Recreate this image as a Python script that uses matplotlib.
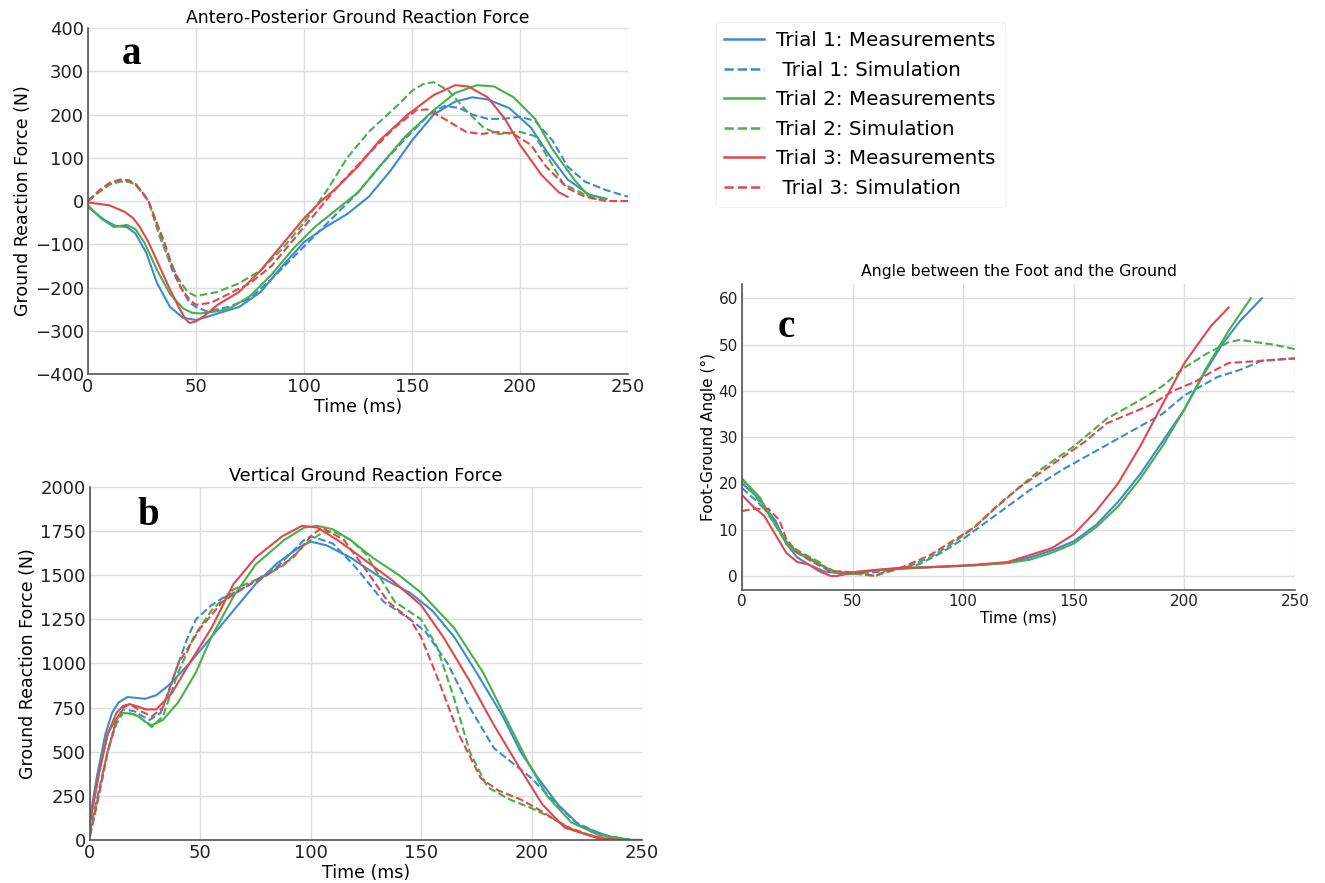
import matplotlib

matplotlib.use("Agg")
import matplotlib.pyplot as plt
from matplotlib.lines import Line2D

BLUE = "#3d8ad4"
GREEN = "#46b049"
RED = "#e0484c"

# ---- panel a: antero-posterior GRF (time ms, force N) ----
ap_t1_meas_t = [0, 8, 13, 18, 22, 27, 32, 38, 44, 50, 55, 60, 70, 80, 90, 100, 110, 120, 130, 140,
                150, 160, 170, 178, 185, 195, 205, 213, 222, 232, 240]
ap_t1_meas_y = [-14, -45, -58, -60, -75, -120, -190, -245, -270, -275, -268, -260, -245, -210, -150, -95,
                -60, -30, 10, 70, 140, 200, 230, 240, 235, 215, 170, 110, 50, 15, 5]
ap_t2_meas_t = [0, 6, 12, 18, 22, 26, 32, 38, 44, 48, 52, 58, 65, 75, 85, 95, 105, 115, 125, 135,
                147, 160, 170, 180, 188, 197, 207, 215, 225, 232, 235]
ap_t2_meas_y = [-10, -40, -60, -55, -65, -95, -160, -215, -248, -258, -260, -256, -250, -220, -170, -110,
                -60, -20, 20, 80, 150, 210, 250, 268, 265, 240, 190, 120, 50, 10, 5]
ap_t3_meas_t = [0, 10, 17, 21, 24, 28, 33, 38, 42, 45, 47, 50, 54, 60, 70, 80, 90, 100, 108, 115,
                125, 135, 148, 160, 170, 176, 185, 193, 200, 210, 218, 222]
ap_t3_meas_y = [-3, -10, -25, -40, -60, -95, -150, -205, -245, -272, -282, -278, -265, -240, -210, -160,
                -100, -40, 0, 30, 80, 140, 200, 245, 268, 265, 240, 190, 130, 60, 20, 10]
ap_t1_sim_t = [0, 5, 10, 15, 19, 22, 25, 28, 31, 35, 39, 43, 47, 50, 55, 65, 75, 85, 95, 105, 115,
               125, 135, 148, 158, 165, 172, 178, 185, 192, 200, 207, 215, 222, 230, 240, 250]
ap_t1_sim_y = [0, 22, 40, 48, 46, 38, 20, 0, -40, -100, -160, -200, -235, -245, -255, -245, -225, -180,
               -130, -80, -30, 20, 80, 150, 200, 220, 215, 200, 190, 190, 195, 185, 140, 80, 45, 25, 10]
ap_t2_sim_t = [0, 5, 10, 15, 19, 22, 25, 28, 33, 37, 42, 46, 50, 60, 70, 80, 90, 100, 110, 120, 130,
               143, 150, 155, 160, 167, 175, 183, 190, 200, 207, 213, 220, 230, 240]
ap_t2_sim_y = [0, 20, 38, 45, 44, 38, 20, 0, -80, -130, -180, -210, -220, -210, -190, -160, -110, -50,
               20, 100, 160, 220, 255, 270, 275, 255, 210, 170, 155, 160, 150, 100, 40, 15, 5]
ap_t3_sim_t = [0, 5, 10, 15, 19, 22, 25, 28, 31, 35, 39, 43, 47, 50, 57, 65, 75, 85, 95, 105, 115,
               128, 142, 152, 157, 165, 175, 182, 190, 197, 205, 212, 222, 230, 240, 250]
ap_t3_sim_y = [0, 24, 42, 50, 48, 40, 22, 0, -40, -90, -150, -200, -228, -240, -235, -215, -190, -150,
               -90, -30, 30, 100, 170, 210, 212, 190, 160, 155, 160, 155, 130, 80, 30, 10, 0, 0]

# ---- panel b: vertical GRF ----
v_t1_meas_t = [0, 3, 7, 10, 13, 17, 21, 25, 30, 36, 45, 55, 65, 75, 85, 95, 100, 107, 118, 130, 145,
               155, 165, 175, 187, 195, 203, 212, 222, 235, 245, 250]
v_t1_meas_y = [120, 350, 600, 720, 780, 810, 805, 800, 820, 880, 1000, 1150, 1300, 1450, 1570, 1660, 1690,
               1670, 1600, 1500, 1400, 1300, 1150, 950, 700, 500, 350, 200, 80, 20, 0, 0]
v_t2_meas_t = [0, 4, 8, 12, 15, 19, 22, 25, 28, 33, 40, 48, 55, 65, 75, 88, 97, 103, 110, 118, 128,
               140, 150, 165, 178, 190, 198, 207, 218, 230, 245, 250]
v_t2_meas_y = [100, 380, 600, 690, 720, 715, 700, 670, 650, 680, 780, 950, 1150, 1380, 1560, 1700, 1770,
               1780, 1760, 1700, 1600, 1500, 1400, 1200, 950, 650, 450, 250, 100, 30, 0, 0]
v_t3_meas_t = [0, 4, 8, 12, 15, 18, 22, 25, 30, 37, 45, 55, 65, 75, 87, 96, 103, 112, 123, 137, 150,
               160, 172, 183, 195, 205, 215, 230, 240, 250]
v_t3_meas_y = [100, 370, 600, 720, 760, 770, 755, 740, 740, 830, 1000, 1200, 1450, 1600, 1720, 1780, 1770,
               1700, 1600, 1470, 1330, 1150, 900, 650, 400, 200, 70, 10, 0, 0]
v_t1_sim_t = [0, 4, 8, 12, 15, 20, 24, 27, 32, 36, 40, 44, 48, 55, 60, 70, 85, 97, 100, 110, 120,
              133, 145, 152, 162, 172, 183, 192, 200, 210, 220, 232, 245, 250]
v_t1_sim_y = [50, 280, 500, 680, 740, 730, 700, 680, 720, 850, 1000, 1140, 1250, 1330, 1370, 1430, 1550,
              1700, 1720, 1680, 1550, 1350, 1250, 1180, 1000, 750, 520, 430, 350, 220, 100, 30, 0, 0]
v_t2_sim_t = [0, 4, 8, 12, 15, 19, 22, 25, 28, 33, 40, 47, 55, 65, 80, 88, 98, 105, 110, 118, 125,
              138, 150, 157, 165, 172, 180, 190, 200, 210, 220, 232, 240, 250]
v_t2_sim_y = [30, 260, 500, 660, 720, 715, 700, 670, 640, 700, 950, 1150, 1300, 1420, 1500, 1560, 1680,
              1740, 1750, 1700, 1620, 1350, 1250, 1100, 800, 500, 300, 230, 180, 120, 50, 10, 0, 0]
v_t3_sim_t = [0, 4, 8, 12, 15, 18, 23, 28, 33, 40, 50, 60, 70, 80, 92, 100, 105, 115, 125, 135, 145,
              150, 158, 167, 177, 185, 195, 205, 215, 228, 240, 250]
v_t3_sim_y = [20, 250, 500, 680, 750, 770, 730, 700, 750, 1000, 1200, 1350, 1430, 1500, 1600, 1720, 1770,
              1700, 1530, 1350, 1250, 1150, 900, 600, 350, 280, 230, 160, 80, 20, 0, 0]

# ---- panel c: foot-ground angle (deg) ----
fa_t1_meas_t = [0, 7, 15, 20, 25, 30, 37, 45, 55, 70, 90, 105, 120, 130, 140, 150, 160, 170, 180, 190,
                200, 208, 217, 225, 235]
fa_t1_meas_y = [20, 17, 12, 7, 4, 2.5, 1, 0.5, 1, 1.5, 2, 2.3, 2.8, 4, 5.5, 7.5, 11, 16, 22, 29, 36, 43,
                50, 55, 60]
fa_t2_meas_t = [0, 8, 15, 23, 30, 37, 45, 52, 60, 70, 90, 105, 120, 130, 140, 150, 160, 170, 180, 190,
                200, 210, 220, 230]
fa_t2_meas_y = [21, 17, 11, 5.5, 4, 2, 0.3, 0.5, 1.2, 1.6, 2, 2.3, 2.8, 3.5, 5, 7, 10.5, 15, 21, 28, 36,
                45, 53, 60]
fa_t3_meas_t = [0, 5, 10, 15, 20, 25, 30, 35, 40, 43, 50, 60, 70, 90, 105, 120, 130, 140, 150, 160, 170,
                180, 190, 200, 212, 220]
fa_t3_meas_y = [17.5, 15, 13, 9, 5, 3, 2.5, 1, 0, 0, 0.8, 1.3, 1.7, 2, 2.4, 3, 4.5, 6, 9, 14, 20, 28, 37,
                46, 54, 58]
fa_t1_sim_t = [0, 7, 15, 20, 27, 35, 42, 50, 60, 70, 80, 90, 100, 110, 120, 130, 145, 160, 175, 190,
               200, 215, 225, 235, 250]
fa_t1_sim_y = [19, 16, 12, 7, 4.5, 2.5, 1, 0.5, 0.8, 1.5, 2.5, 5, 8, 11.5, 15, 18.5, 23, 27, 31, 35, 39,
               43, 44.5, 46.5, 47]
fa_t2_sim_t = [0, 8, 15, 20, 27, 35, 40, 50, 60, 67, 75, 85, 95, 105, 113, 125, 135, 150, 165, 180, 190,
               200, 210, 220, 225, 240, 250]
fa_t2_sim_y = [21, 16, 11, 7, 5, 3, 1, 0.5, 0, 1, 2, 4, 7, 10.5, 14, 19, 23, 28, 34, 38, 41, 45, 48,
               50.5, 51, 50, 49]
fa_t3_sim_t = [0, 5, 12, 17, 20, 25, 32, 40, 45, 55, 60, 65, 73, 85, 95, 105, 115, 125, 140, 155, 165,
               175, 185, 195, 205, 212, 220, 235, 250]
fa_t3_sim_y = [14, 14.5, 14.5, 12, 8, 5, 3, 1, 1, 0.5, 0, 1, 2, 4.5, 7.5, 10.5, 15, 19, 24, 29, 33, 35,
               37, 40, 42, 44, 46, 46.5, 47]

labels = ["Trial 1: Measurements", " Trial 1: Simulation", "Trial 2: Measurements",
          "Trial 2: Simulation", "Trial 3: Measurements", " Trial 3: Simulation"]
colors = [BLUE, BLUE, GREEN, GREEN, RED, RED]
styles = ["-", "--", "-", "--", "-", "--"]


def style_axes(ax, tick_size):
    ax.grid(True, color="#dddddd", linewidth=1.0)
    ax.set_axisbelow(True)
    for side in ["top", "right"]:
        ax.spines[side].set_visible(False)
    for side in ["left", "bottom"]:
        ax.spines[side].set_color("#555555")
        ax.spines[side].set_linewidth(1.2)
    ax.tick_params(length=0, labelsize=tick_size, colors="#222222", pad=3)


def draw(ax, series):
    for (t, y), c, ls in zip(series, colors, styles):
        ax.plot(t, y, color=c, linestyle=ls, linewidth=1.5)


fig = plt.figure(figsize=(13.25, 8.83), dpi=100)

ax_a = fig.add_axes([0.0664, 0.5764, 0.4076, 0.3918])
draw(ax_a, [(ap_t1_meas_t, ap_t1_meas_y), (ap_t1_sim_t, ap_t1_sim_y),
            (ap_t2_meas_t, ap_t2_meas_y), (ap_t2_sim_t, ap_t2_sim_y),
            (ap_t3_meas_t, ap_t3_meas_y), (ap_t3_sim_t, ap_t3_sim_y)])
ax_a.set_xlim(0, 250)
ax_a.set_ylim(-400, 400)
ax_a.set_xticks([0, 50, 100, 150, 200, 250])
ax_a.set_yticks(range(-400, 401, 100))
style_axes(ax_a, 13)
ax_a.set_title("Antero-Posterior Ground Reaction Force", fontsize=12.4, pad=4)
ax_a.set_xlabel("Time (ms)", fontsize=12.5, labelpad=1)
ax_a.set_ylabel("Ground Reaction Force (N)", fontsize=12.5, labelpad=2)
ax_a.text(0.08, 0.925, "a", transform=ax_a.transAxes, fontsize=28, fontweight="bold",
          family="Liberation Serif", va="center", ha="center")

ax_b = fig.add_axes([0.0679, 0.0487, 0.4166, 0.3998])
draw(ax_b, [(v_t1_meas_t, v_t1_meas_y), (v_t1_sim_t, v_t1_sim_y),
            (v_t2_meas_t, v_t2_meas_y), (v_t2_sim_t, v_t2_sim_y),
            (v_t3_meas_t, v_t3_meas_y), (v_t3_sim_t, v_t3_sim_y)])
ax_b.set_xlim(0, 250)
ax_b.set_ylim(0, 2000)
ax_b.set_xticks([0, 50, 100, 150, 200, 250])
ax_b.set_yticks(range(0, 2001, 250))
style_axes(ax_b, 13)
ax_b.set_title("Vertical Ground Reaction Force", fontsize=12.7, pad=4)
ax_b.set_xlabel("Time (ms)", fontsize=12.5, labelpad=1)
ax_b.set_ylabel("Ground Reaction Force (N)", fontsize=12.5, labelpad=2)
ax_b.text(0.105, 0.92, "b", transform=ax_b.transAxes, fontsize=28, fontweight="bold",
          family="Liberation Serif", va="center", ha="center")

ax_c = fig.add_axes([0.56, 0.332, 0.4174, 0.346])
draw(ax_c, [(fa_t1_meas_t, fa_t1_meas_y), (fa_t1_sim_t, fa_t1_sim_y),
            (fa_t2_meas_t, fa_t2_meas_y), (fa_t2_sim_t, fa_t2_sim_y),
            (fa_t3_meas_t, fa_t3_meas_y), (fa_t3_sim_t, fa_t3_sim_y)])
ax_c.set_xlim(0, 250)
ax_c.set_ylim(-3, 63)
ax_c.set_xticks([0, 50, 100, 150, 200, 250])
ax_c.set_yticks(range(0, 61, 10))
style_axes(ax_c, 11)
ax_c.set_title("Angle between the Foot and the Ground", fontsize=11.3, pad=6)
ax_c.set_xlabel("Time (ms)", fontsize=11, labelpad=1)
ax_c.set_ylabel("Foot-Ground Angle (°)", fontsize=11, labelpad=2)
ax_c.text(0.08, 0.86, "c", transform=ax_c.transAxes, fontsize=28, fontweight="bold",
          family="Liberation Serif", va="center", ha="center")

handles = [Line2D([0], [0], color=c, linestyle=ls, linewidth=1.8) for c, ls in zip(colors, styles)]
leg = fig.legend(handles, labels, loc="upper left", bbox_to_anchor=(0.54, 0.975), fontsize=14.3,
                 frameon=True, handlelength=2.0, handletextpad=0.6, labelspacing=0.53,
                 borderpad=0.45, borderaxespad=0)
leg.get_frame().set_edgecolor("#eeeeee")
leg.get_frame().set_linewidth(0.8)

fig.savefig("out.png", dpi=100)
